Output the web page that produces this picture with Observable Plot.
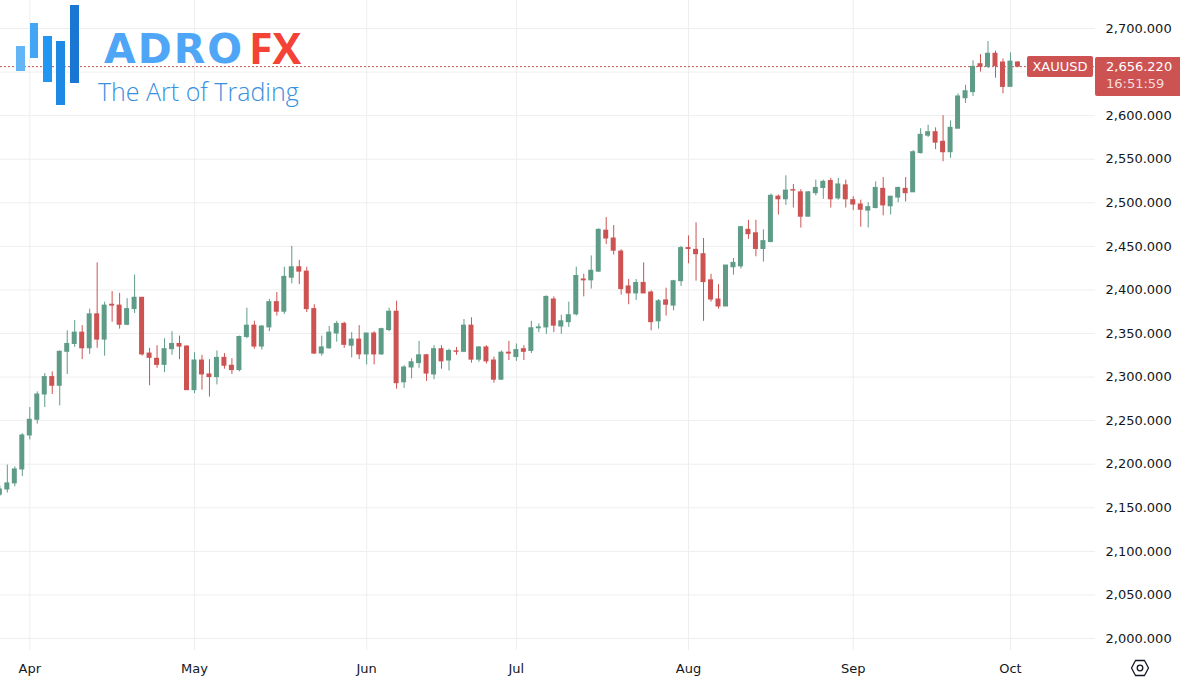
<!DOCTYPE html>
<html>
<head>
<meta charset="utf-8">
<script src="https://cdn.jsdelivr.net/npm/d3@7"></script>
<script src="https://cdn.jsdelivr.net/npm/@observablehq/plot@0.6"></script>
<style>
  html, body { margin: 0; padding: 0; background: #ffffff; }
  #wrap { position: relative; width: 1180px; height: 686px; overflow: hidden; font-family: "DejaVu Sans", sans-serif; }
  #wrap svg { display: block; }
  .ov { position: absolute; }
  .bar { position: absolute; }
  .logo-word { position: absolute; line-height: 1; white-space: nowrap; font-weight: 700; }
  .logo-sub { position: absolute; left: 98px; top: 79px; font-family: "Open Sans", sans-serif; font-weight: 300; font-size: 25px; color: #3a8fdf; line-height: 1; white-space: nowrap; }
  .pbox { position: absolute; background: #cd5353; color: #fff; border-radius: 2px; font-size: 13px; font-family: "DejaVu Sans", sans-serif; }
</style>
</head>
<body>
<div id="wrap"></div>
<script>
// ---- data (XAUUSD daily candles, bar index 0 = first visible bar) ----
const open  = [2165,2171,2178,2194,2233,2251,2280,2300,2290,2329,2338,2351,2333,2372,2343,2383,2382,2360,2378,2391,
               2327,2321,2314,2332,2338,2335,2285,2319,2303,2300,2322,2313,2308,2346,2359,2335,2357,2386,2375,2414,
               2426,2421,2378,2327,2333,2350,2361,2336,2343,2326,2350,2326,2354,2375,2294,2311,2316,2325,2303,2332,
               2319,2329.5,2329,2359,2320,2334,2319,2297,2328,2323,2332,2330,2356,2357,2389,2358,2363,2372,2412,2411,
               2421,2468,2459,2444,2404,2396,2408,2397,2364,2388,2382,2410,2448,2446,2441,2411,2389,2381,2426,2427,
               2469,2465,2447,2455,2507,2504,2514.5,2512,2484,2511,2517,2525,2505,2520,2503,2498,2491,2494,2516,2496,
               2506,2516,2512,2557,2577,2581,2570,2558,2585,2620,2627,2659,2656,2671,2661,2633,2661];
const high  = [2175,2199,2197,2235,2265,2283,2304,2306,2330,2353,2365,2359,2378,2431,2386,2398,2396,2390,2417,2391,
               2333,2336,2344,2352,2347,2336,2328,2325,2320,2330,2327,2321,2347,2379,2364,2359,2389,2397,2426,2450,
               2434,2426,2383,2347,2358,2364,2363,2351,2359,2350,2352,2356,2379,2387,2313,2321,2341,2326,2336,2336,
               2332,2334,2366,2368,2335,2336,2323,2330,2341,2338,2336,2364,2361,2393,2392,2371,2386,2426,2418,2439,
               2470,2483,2474,2446,2412,2412,2431,2399,2389,2402,2411,2450,2462,2477,2459,2418,2406,2428,2436,2473,
               2480,2480,2469,2510,2509,2531,2521,2515,2513,2526,2526,2528,2528,2526,2507,2503,2500,2524,2529,2507,
               2518,2529,2560,2585,2589,2586,2600,2594,2625,2635,2663,2670,2685,2674,2665,2672,2662];
const low   = [2163,2167,2174,2186,2228,2246,2265,2280,2267,2303,2334,2320,2326,2333,2324,2363,2355,2359,2373,2324,
               2290,2310,2305,2325,2320,2285,2281,2285,2277,2291,2309,2303,2306,2344,2332,2331,2352,2370,2372,2407,
               2406,2374,2326,2324,2332,2340,2333,2322,2320,2314,2314,2325,2352,2286,2287,2298,2310,2295,2297,2309,
               2307,2325,2328,2316,2317,2315,2293,2296,2319,2318,2319,2327,2351,2349,2351,2349,2357,2370,2392,2401,
               2420,2452,2440,2394,2383,2388,2396,2353,2355,2370,2376,2404,2430,2410,2364,2386,2378,2381,2417,2424,
               2458,2438,2432,2454,2486,2497,2494,2471,2484,2508,2504,2494,2503,2494,2491,2472,2471,2493,2485,2486,
               2500,2501,2512,2556,2575,2561,2547,2551,2585,2614,2622,2650,2654,2643,2625,2633,2655];
const close = [2171,2178,2194,2233,2251,2280,2300,2290,2329,2338,2351,2333,2372,2343,2382,2382,2360,2378,2391,2326,
               2322,2314,2332,2338,2335,2285,2319,2303,2300,2322,2313,2308,2346,2359,2335,2358,2386,2375,2415,2426,
               2421,2378,2327,2334,2351,2361,2337,2343,2326,2350,2326,2355,2375,2293,2311,2317,2325,2304,2332,2318,
               2330,2329,2359,2320,2334,2318,2297,2328,2327,2331,2329,2356,2357,2392,2359,2364,2371,2416,2411,2422,
               2469,2459,2445,2401,2396,2408,2396,2363,2387,2383,2410,2448,2447,2441,2409,2389,2381,2428,2431,2472,
               2464,2447,2456,2508,2504,2514,2514,2484,2512,2517,2524,2504,2521,2504,2498,2492,2495,2517,2497,2507,
               2517,2511,2558,2578,2581,2569,2558,2586,2622,2628,2656,2656,2671,2657,2633,2662,2656.22];

const monthLabels = ["Apr", "May", "Jun", "Jul", "Aug", "Sep", "Oct"];
const monthStartIndex = [4, 26, 49, 69, 92, 114, 135];
const gridPrices = [2000, 2050, 2100, 2150, 2200, 2250, 2300, 2350, 2400, 2450, 2500, 2550, 2600, 2650, 2700];
// 2,650.000 is hidden behind the last-price label in the reference
const labelPrices = [2000, 2050, 2100, 2150, 2200, 2250, 2300, 2350, 2400, 2450, 2500, 2550, 2600, 2700];
const symbol = "XAUUSD";
const lastPrice = 2656.22;
const countdown = "16:51:59";

// ---- styles ----
const UP = "#5f9c87", DOWN = "#cd5353", GRID = "#eeeeee", TEXT = "#131722";

const candles = open.map((o, i) => ({
  i, open: o, high: high[i], low: low[i], close: close[i],
  color: close[i] >= o ? UP : DOWN
}));

const fmt = d3.format(",.3f");
const half = 0.334;

const chart = Plot.plot({
  width: 1180,
  height: 686,
  marginLeft: 0,
  marginRight: 85,
  marginTop: 0,
  marginBottom: 36,
  style: { fontFamily: "DejaVu Sans, sans-serif", fontSize: "13px", color: TEXT, background: "#ffffff", overflow: "visible" },
  x: { type: "linear", domain: [0.087, 146.36], axis: null },
  y: { domain: [1986.23, 2732.13], axis: null },
  color: { type: "identity" },
  marks: [
    Plot.gridX(monthStartIndex, { stroke: GRID, strokeOpacity: 1 }),
    Plot.gridY(gridPrices, { stroke: GRID, strokeOpacity: 1 }),
    Plot.axisY(labelPrices, { anchor: "right", label: null, tickSize: 0, tickPadding: 10, tickFormat: fmt, fill: TEXT, fontSize: 13 }),
    Plot.axisX(monthStartIndex, { anchor: "bottom", label: null, tickSize: 0, tickPadding: 13, tickFormat: d => monthLabels[monthStartIndex.indexOf(d)], fill: TEXT, fontSize: 13 }),
    Plot.ruleY([lastPrice], { stroke: DOWN, strokeWidth: 1, strokeDasharray: "2,2" }),
    Plot.ruleX(candles, { x: "i", y1: "low", y2: "high", stroke: "color", strokeWidth: 1 }),
    Plot.rect(candles, {
      x1: d => d.i - half, x2: d => d.i + half,
      y1: d => Math.min(d.open, d.close), y2: d => Math.max(d.open, d.close),
      fill: "color", insetTop: -0.5, insetBottom: -0.5
    })
  ]
});

const wrap = document.getElementById("wrap");
wrap.appendChild(chart);

// ---- overlays: logo watermark ----
const logoBars = [
  { l: 16, t: 46, w: 9, h: 25, c: "#64b5f6" },
  { l: 30, t: 23, w: 8, h: 35, c: "#42a5f5" },
  { l: 43, t: 36, w: 9, h: 46, c: "#2196f3" },
  { l: 56, t: 41, w: 9, h: 64, c: "#1e88e5" },
  { l: 70, t: 5,  w: 9, h: 78, c: "#1976d2" }
];
logoBars.forEach(b => {
  const el = document.createElement("div");
  el.className = "bar";
  Object.assign(el.style, { left: b.l + "px", top: b.t + "px", width: b.w + "px", height: b.h + "px", background: b.c });
  wrap.appendChild(el);
});
const w1 = document.createElement("div");
w1.className = "logo-word";
Object.assign(w1.style, { left: "104px", top: "28.5px", color: "#4fa6f6", letterSpacing: "2px", fontFamily: "'DejaVu Sans', sans-serif", fontSize: "41px" });
w1.textContent = "ADRO";
wrap.appendChild(w1);
const w2 = document.createElement("div");
w2.className = "logo-word";
Object.assign(w2.style, { left: "249px", top: "26px", color: "#f44336", letterSpacing: "0px", fontFamily: "'Open Sans', sans-serif", fontSize: "43px" });
w2.textContent = "FX";
wrap.appendChild(w2);
const sub = document.createElement("div");
sub.className = "logo-sub";
sub.textContent = "The Art of Trading";
wrap.appendChild(sub);

// ---- overlays: last price labels, positioned with the y scale ----
const yLast = chart.scale("y").apply(lastPrice);
const sym = document.createElement("div");
sym.className = "pbox";
Object.assign(sym.style, { left: "1027px", top: (yLast - 10.5) + "px", width: "66px", height: "21px", lineHeight: "21px", textAlign: "center" });
sym.textContent = symbol;
wrap.appendChild(sym);

const pb = document.createElement("div");
pb.className = "pbox";
Object.assign(pb.style, { left: "1095px", top: (yLast - 9.5) + "px", width: "85px", height: "39px", borderRadius: "2px 0 0 2px" });
pb.innerHTML = '<div style="position:absolute;left:11px;top:2px;line-height:16px">' + fmt(lastPrice) +
  '</div><div style="position:absolute;left:11px;top:19.5px;line-height:16px;color:#f6dcdc">' + countdown + '</div>';
wrap.appendChild(pb);

// ---- settings icon ----
const icon = document.createElement("div");
icon.className = "ov";
Object.assign(icon.style, { left: "1130px", top: "659px", width: "20px", height: "18px" });
icon.innerHTML = '<svg width="20" height="18" viewBox="0 0 20 18"><path d="M5.5 1.5 H14.5 L18.5 9 L14.5 16.5 H5.5 L1.5 9 Z" fill="none" stroke="#131722" stroke-width="1.3" stroke-linejoin="round"/><circle cx="10" cy="9" r="2.8" fill="none" stroke="#131722" stroke-width="1.3"/></svg>';
wrap.appendChild(icon);
</script>
</body>
</html>
